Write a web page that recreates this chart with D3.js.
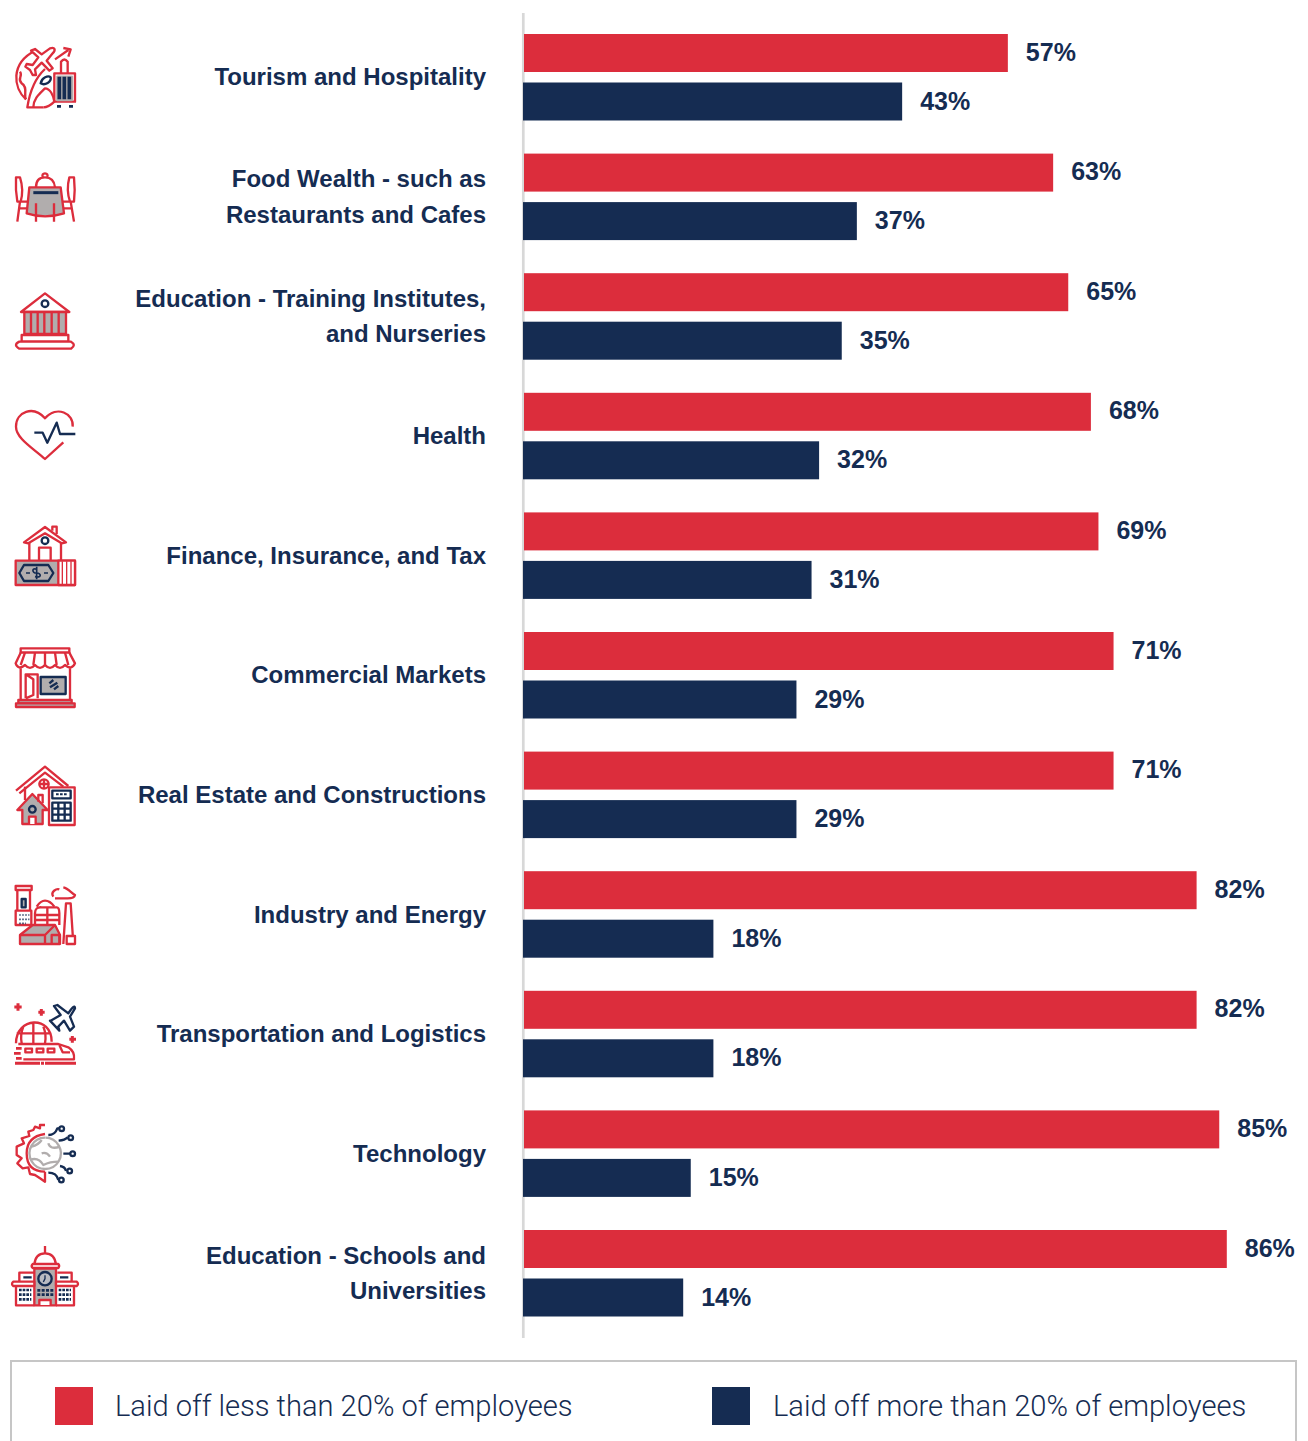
<!DOCTYPE html>
<html><head><meta charset="utf-8">
<script src="https://cdn.jsdelivr.net/npm/d3@7"></script>
<style>html,body{margin:0;padding:0;background:#fff;overflow:hidden}svg{display:block}</style>
</head><body><div id="chart"></div>
<script>
const categories = ["Tourism and Hospitality","Food Wealth - such as\nRestaurants and Cafes","Education - Training Institutes,\nand Nurseries","Health","Finance, Insurance, and Tax","Commercial Markets","Real Estate and Constructions","Industry and Energy","Transportation and Logistics","Technology","Education - Schools and\nUniversities"];
const lessThan20 = [57,63,65,68,69,71,71,82,82,85,86];
const moreThan20 = [43,37,35,32,31,29,29,18,18,15,14];
const legendLabels = ["Laid off less than 20% of employees","Laid off more than 20% of employees"];
const RED="#DC2D3C", NAVY="#152C52", GREY="#B1ADAD", FONT="'Liberation Sans',Arial,sans-serif";
const W=1308,H=1441;
const svg=d3.select("#chart").append("svg").attr("width",W).attr("height",H).attr("viewBox",`0 0 ${W} ${H}`);
const x=d3.scaleLinear().domain([0,100]).range([577.5,1332.5]);
const baseX=523;
const y=d3.scaleBand().domain(categories).range([34,34+119.6*11]).paddingInner(0).paddingOuter(0);
const barH=38, blueOff=48.5;

svg.append("line").attr("x1",523.3).attr("x2",523.3).attr("y1",13).attr("y2",1338).attr("stroke","#D8D8D8").attr("stroke-width",2.7);

const rows=svg.selectAll("g.row").data(categories.map((c,i)=>({c,a:lessThan20[i],b:moreThan20[i]}))).join("g").attr("class","row");
rows.append("rect").attr("x",baseX+1).attr("y",d=>y(d.c)).attr("width",d=>x(d.a)-baseX-1).attr("height",barH).attr("fill",RED);
rows.append("rect").attr("x",baseX).attr("y",d=>y(d.c)+blueOff).attr("width",d=>x(d.b)-baseX).attr("height",barH).attr("fill",NAVY);
const valStyle=s=>s.attr("font-family",FONT).attr("font-weight",700).attr("font-size",25).attr("fill",NAVY).attr("dominant-baseline","central");
rows.append("text").attr("x",d=>x(d.a)+18).attr("y",d=>y(d.c)+barH/2-1.5).text(d=>d.a+"%").call(valStyle);
rows.append("text").attr("x",d=>x(d.b)+18).attr("y",d=>y(d.c)+blueOff+barH/2-1).text(d=>d.b+"%").call(valStyle);
rows.each(function(d){
  const lines=d.c.split("\n"), cy=y(d.c)+42.8;
  lines.forEach((l,i)=>{
    d3.select(this).append("text").attr("x",486).attr("y",cy+(i-(lines.length-1)/2)*35.5).attr("text-anchor","end").attr("dominant-baseline","central")
      .attr("font-family",FONT).attr("font-weight",700).attr("font-size",24).attr("fill",NAVY).text(l);
  });
});

// legend
svg.append("rect").attr("x",11).attr("y",1361).attr("width",1285).attr("height",120).attr("fill","none").attr("stroke","#C6C6C6").attr("stroke-width",2);
const legendX=[55,712], legendTextX=[115,773], legendColors=[RED,NAVY];
legendLabels.forEach((l,i)=>{
  svg.append("rect").attr("x",legendX[i]).attr("y",1387).attr("width",38).attr("height",38).attr("fill",legendColors[i]);
  svg.append("text").attr("x",legendTextX[i]).attr("y",1405.5).attr("dominant-baseline","central").attr("font-family","Roboto,sans-serif").attr("font-weight",300).attr("font-size",29.1).attr("fill",NAVY).text(l);
});

// decorative icons: paths in 3x units
const R=RED,N=NAVY,G=GREY;
const icons=[
 [20,[
  ["M78,238 C40,205 30,130 105,92",R],["M130,262 L82,262 C90,210 110,170 135,147",R],["M60,155 C70,170 50,175 65,190 C85,200 70,225 78,238",R],
  ["M100,262 C100,235 120,220 135,205 C150,205 160,225 163,245 C150,258 140,262 130,262",R],
  ["M122,190 C125,172 145,165 152,172 C155,185 135,198 122,190Z",N],
  ["M93,92 L105,87 L125,103 L150,85 C165,80 168,90 158,100 L140,122 L158,145 L148,152 L125,128 L105,148 L108,165 L98,165 L90,150 L76,140 L80,132 L98,135 L115,112 Z",R,"#fff"],
  ["M165,118 L205,90 M190,84 L212,88 L205,110",R],
  ["M163,160 H225 V245 H163 Z",R,"#fff"],["M183,160 V125 Q193,112 203,125 V160",R],
  ["M172,170 H216 V240 H172Z",G,G],["M178,170V238 M193,170V238 M208,170V238",N,null,11],
  ["M171,259H183 M207,259H219",N,null,8]
 ]],
 [20,[
  ["M52,605 L60,545 M48,472 H60 Q72,510 62,545 H52 Q46,510 48,472Z M60,545 H90 M58,565 H90",R],
  ["M222,605 L212,545 M222,472 H208 Q198,510 210,545 H222 Q226,510 222,472Z M212,545 H185 M215,565 H185",R],
  ["M88,502 H182 L192,580 Q135,598 80,580Z",R,G],["M108,502 Q108,472 135,472 Q162,472 165,502 M128,472 Q125,460 135,460 Q145,460 142,472",R],
  ["M100,518H175",N,null,9],["M108,605V550 M162,605V550",R]
 ]],
 [280,[
  ["M63,96 L135,40 L208,96 Z",R,"#fff"],["M135,71m-10,0a10,10,0,1,0,20,0a10,10,0,1,0,-20,0",N],
  ["M73,96H198V162H73Z",R,G],["M93,98V160 M113,98V160 M133,98V160 M155,98V160 M176,98V160",R,null,7],
  ["M65,165H205V185H65Z",R,"#fff"],["M58,185H213Q230,195 213,206H58Q38,195 58,185Z",R,"#fff"]
 ]],
 [280,[
  ["M218,440 C222,400 170,375 135,415 C100,375 48,395 48,440 C48,475 100,505 135,537 L190,487",R],
  ["M103,458 H128 L142,488 L170,428 L180,462 H226",N]
 ]],
 [280,[
  ["M72,787 L135,741 L198,787 L185,790 L135,760 L85,790Z",R,"#fff"],["M157,752V740H170V762",R],
  ["M88,787V842 M183,787V842",R],["M117,842V803H152V842",R],["M135,782m-10,0a10,10,0,1,0,20,0a10,10,0,1,0,-20,0",N],
  ["M47,842H225V915H47Z",R,G],["M175,842H225V915H175Z",R,"#fff"],["M187,844V913 M200,844V913 M213,844V913",R,null,4],
  ["M72,855H145L160,879L145,903H72L58,879Z",N],["M110,868 C95,862 95,880 110,879 C125,880 125,895 105,890 M110,860V898 M78,879H90 M132,879H144",N,null,5]
 ]],
 [630,[
  ["M62,55H208V68H62Z",R,"#fff"],["M62,68H208L225,100Q215,122 195,105Q180,122 165,105Q150,122 135,105Q120,122 105,105Q90,122 75,105Q55,122 47,100Z",R,"#fff"],
  ["M75,68L62,105 M105,68L100,105 M135,68V105 M165,68L170,105 M195,68L205,105",R],
  ["M62,115V208 M210,115V208",R],["M77,205V133H113V205 M77,133L100,148V195 L77,205",R],
  ["M122,141H197V192H122Z",N,G],["M148,160L160,150 M150,172L172,158 M162,178L175,168",N],
  ["M55,210H215V220H55Z",R,G],["M48,220H224V231H48Z",R,G]
 ]],
 [630,[
  ["M48,482L135,410L205,468 M58,490L135,428L190,470",R],["M132,462m-14,0a14,14,0,1,0,28,0a14,14,0,1,0,-28,0M118,462H146M132,448V476",R],
  ["M75,470V510",R],["M52,540L97,492L143,540L128,540V582H67V540Z",R,G],["M87,582V560H107V582",R,"#fff"],["M97,538m-10,0a10,10,0,1,0,20,0a10,10,0,1,0,-20,0",N],
  ["M115,515V495H128V520",R],
  ["M147,472H224V585H147Z",R,"#fff"],["M157,482H212V505H157Z",N],["M168,493H176 M180,493H188 M192,493H200",N,null,6],
  ["M157,518H212V572H157Z M175,518V572 M194,518V572 M157,536H212 M157,554H212",N]
 ]],
 [630,[
  ["M47,768H95V780H47Z M52,780V842 M90,780V842",R],["M65,807H77V832H65Z",N,G],
  ["M47,842H94V885H47Z",R,"#fff"],["M58,855H88 M58,868H88 M58,880H78",N,null,5,"4 5"],
  ["M105,885V850Q105,830 125,832H170Q178,832 178,850V885 M107,855H175 M107,870H175 M142,832V885",R],["M110,830Q122,812 135,812Q150,812 163,830",R],
  ["M60,915L98,885H165L180,915V942H60Z",R,G],["M60,915H135L165,885 M135,915V942 M155,942V915H178V942",R],
  ["M190,942L198,820H212L220,942",R],["M200,918H225V942H200Z",R,"#fff"],
  ["M160,800C150,785 170,775 178,778 M190,772 C205,775 215,790 225,795 C222,808 205,805 195,805 H165",R]
 ]],
 [990,[
  ["M54,40V62 M43,51H65",R,null,9],["M124,57V77 M115,67H134",R,null,9],["M217,138V158 M208,148H228",R,null,9],
  ["M152,92L182,75L162,48L172,45L205,70C215,55 225,42 225,55L210,80L222,110L210,122L192,92L175,110L178,122L150,92Z",N],
  ["M48,160C48,80 155,75 155,155 M100,95V160 M70,110Q60,135 65,160 M130,110Q140,135 135,160 M50,130H150",R],
  ["M55,162H175L205,172Q225,185 222,208H70",R,"#fff"],["M76,176H96V187H76Z M110,176H130V187H110Z M143,176H163V187H143Z M178,165L188,187H210",R],
  ["M48,175H65 M42,190H62 M48,205H65",R,null,8],["M45,220H120 M123,220H132 M135,220H228",R,null,9]
 ]],
 [990,[
  ["M135,405H120V415L105,410L100,420L85,425L88,438L65,445L72,460L50,470V495L65,505L52,520L68,535L85,532L90,552L105,555L120,565L135,575V545",R],["M135,432Q80,440 80,490Q80,545 135,545",R],
  ["M135,443a47,47,0,1,0,1,0",G],["M95,470Q115,465 125,450 M180,470Q150,480 145,460 M90,510Q115,500 130,525Q150,515 175,515 M125,490Q140,485 150,500",G],
  ["M145,435Q165,435 172,415 h5 M176,452Q195,450 203,442 M190,491H212 M180,528Q195,530 198,543 M145,548Q170,548 175,570",N],
  ["M185,416m-7,0a7,7,0,1,0,14,0a7,7,0,1,0,-14,0 M212,443m-7,0a7,7,0,1,0,14,0a7,7,0,1,0,-14,0 M218,491m-7,0a7,7,0,1,0,14,0a7,7,0,1,0,-14,0 M209,543m-7,0a7,7,0,1,0,14,0a7,7,0,1,0,-14,0 M184,570m-7,0a7,7,0,1,0,14,0a7,7,0,1,0,-14,0",N]
 ]],
 [990,[
  ["M135,768V790",R],["M103,825Q105,790 135,790Q165,790 168,825",R,"#fff"],["M98,822H175Q180,828 175,834H98Q92,828 98,822Z",R,"#fff"],
  ["M103,836H168V946H103Z",R,G],["M135,866m-20,0a20,20,0,1,0,40,0a20,20,0,1,0,-40,0",N,"#B9BBC2"],["M135,866L130,876 M135,856V868",N,null,4],
  ["M112,901H160 M112,914H160",N,null,8,"9 4"],["M118,945V930H152V945",R,"#fff"],
  ["M58,874V848H103 M172,848H215V874",R],["M70,862H95 M180,862H205",N,null,7],
  ["M40,875H103V888H40Q32,882 40,875Z M168,875H230Q238,882 230,888H168Z",R,"#fff"],
  ["M48,888V946H103 M168,946H222V888",R],["M57,900H94 M57,914H94 M57,928H94 M176,900H213 M176,914H213 M176,928H213",N,null,8,"8 3"]
 ]]
];
const ig=svg.append("g").attr("class","icons");
icons.forEach(([oy,parts])=>{
  const g=ig.append("g").attr("transform",`translate(0,${oy}) scale(${1/3})`);
  parts.forEach(([d,s,f,w,da])=>{
    g.append("path").attr("d",d).attr("stroke",s).attr("fill",f||"none").attr("stroke-width",w||7).attr("stroke-linejoin","round").attr("stroke-dasharray",da||null);
  });
});
</script></body></html>
